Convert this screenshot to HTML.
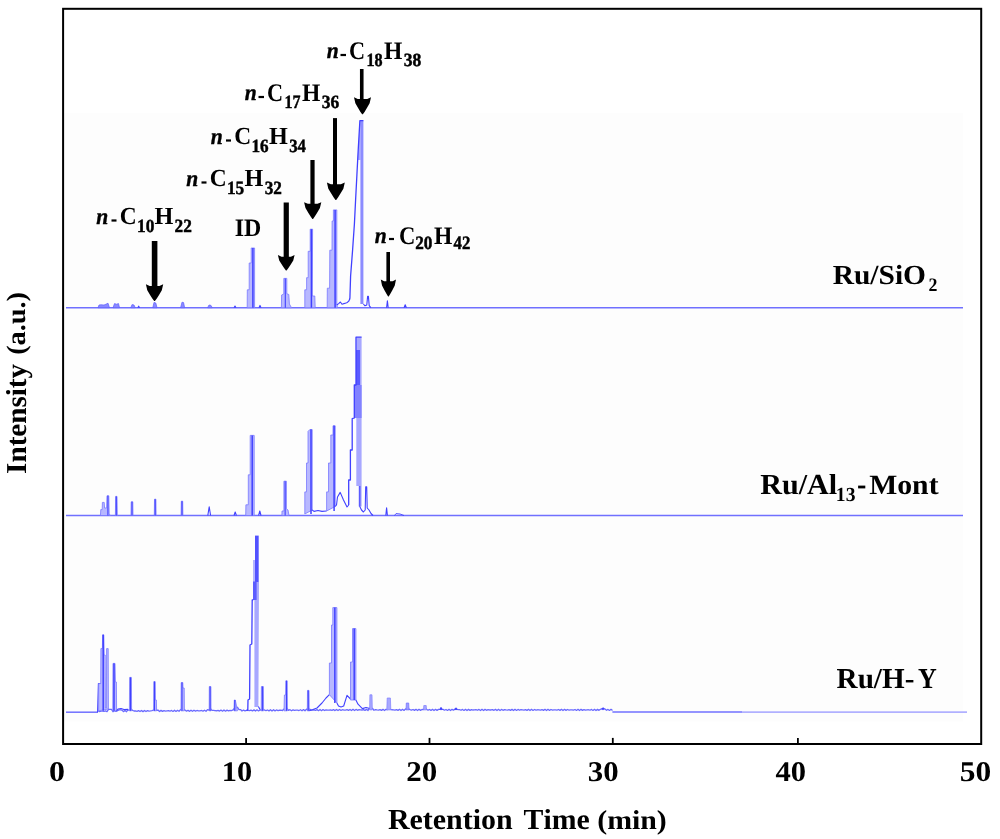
<!DOCTYPE html>
<html><head><meta charset="utf-8"><style>
html,body{margin:0;padding:0;background:#fff;}
body{width:1000px;height:839px;overflow:hidden;}
svg{display:block;will-change:transform;}
text{text-rendering:geometricPrecision;font-family:"Liberation Serif",serif;font-weight:bold;font-size:28px;fill:#000;font-kerning:none;}
</style></head><body>
<svg width="1000" height="839" viewBox="0 0 1000 839">
<rect x="0" y="0" width="1000" height="839" fill="#fff"/>
<rect x="64" y="112.9" width="898.8" height="608.7" fill="#fdfdfd"/>
<g>
<line x1="66" y1="307.7" x2="963" y2="307.7" stroke="#7070ff" stroke-width="1.5"/>
<polygon points="98,307.7 99,305 101,304.8 104,305 106,304.2 108,303.2 109.5,307.7" fill="#8a8aff" stroke="#5c5cff" stroke-width="0.7"/>
<polygon points="113,307.7 114.5,303.6 116.5,304.2 118.5,303.6 119.5,307.7" fill="#8a8aff" stroke="#5c5cff" stroke-width="0.7"/>
<polygon points="130.8,307.7 132,304.6 134,305 135.2,307.7" fill="#8a8aff" stroke="#5c5cff" stroke-width="0.7"/>
<polyline points="137.8,307.7 138.7,306.2 139.6,307.7" fill="none" stroke="#4040ff" stroke-width="1.1" stroke-linejoin="round"/>
<polygon points="152.8,307.7 154,302.4 155.8,303 157,307.7" fill="#8a8aff" stroke="#5c5cff" stroke-width="0.7"/>
<polygon points="180.6,307.7 182,302.2 183.6,302.6 184.6,307.7" fill="#8a8aff" stroke="#5c5cff" stroke-width="0.7"/>
<polygon points="207.6,307.7 209,305 211,305.4 212.2,307.7" fill="#8a8aff" stroke="#5c5cff" stroke-width="0.7"/>
<polyline points="234,307.7 235,306 236,307.7" fill="none" stroke="#4040ff" stroke-width="1.1" stroke-linejoin="round"/>
<polygon points="247.2,307.7 247.3,289.8 249.2,289.8 249.2,263 251.2,263 251.2,248 254.6,248 254.6,307.7" fill="#b8b8ff" stroke="#7878ff" stroke-width="0.8"/>
<line x1="252.90" y1="248" x2="252.90" y2="307.7" stroke="#4040ff" stroke-width="1.5"/>
<polyline points="259,307.7 260,305.4 261,307.7" fill="none" stroke="#4040ff" stroke-width="1.1" stroke-linejoin="round"/>
<polygon points="281.4,307.7 281.6,295 283.8,294 283.8,278.4 286.8,278.4 286.8,293.7 288.8,294.5 289.4,304 291.5,307.7" fill="#b8b8ff" stroke="#7878ff" stroke-width="0.8"/>
<line x1="285.30" y1="278.4" x2="285.30" y2="307.7" stroke="#4040ff" stroke-width="1.1"/>
<polygon points="304.8,307.7 304.8,289.8 306.6,289.8 306.6,277.7 308.2,277.7 308.2,251.3 310.2,251.3 310.2,229.2 312.6,229.2 312.3,296 314.8,296 315.2,307.7" fill="#b8b8ff" stroke="#7878ff" stroke-width="0.8"/>
<line x1="311.40" y1="229.2" x2="311.40" y2="307.7" stroke="#4040ff" stroke-width="1.5"/>
<polygon points="327.2,307.7 327.3,288.2 329.6,288.2 329.8,250.2 332,250.2 332.1,221 333.4,221 333.4,209.9 336.8,209.9 336.8,304 337.4,307.7" fill="#b8b8ff" stroke="#7878ff" stroke-width="0.8"/>
<line x1="335.10" y1="209.9" x2="335.10" y2="307.7" stroke="#4040ff" stroke-width="1.5"/>
<polyline points="336.8,305 338.6,303.6 340.4,302 342,304.2 344.6,303.4 347.4,302.4 349.3,300.5" fill="none" stroke="#4040ff" stroke-width="1.1" stroke-linejoin="round"/>
<polygon points="360.4,120.4 363.4,120.4 363.4,304 360.4,304" fill="#8c8cff"/>
<polygon points="357.5,160 358.2,150 359.9,121 361,121 361,160" fill="#a8a8ff"/>
<polyline points="349.3,300.5 349.9,298 350.6,276 352.6,250 354.4,224 355.6,200 356.9,175 358.2,150 359.9,120.6 363.4,120.6" fill="none" stroke="#4040ff" stroke-width="1.3" stroke-linejoin="round"/>
<polyline points="363.4,304 365,305.8 366.8,305 367.6,296.4 368.4,296.4 369.2,305.6 370.8,307.7" fill="none" stroke="#4040ff" stroke-width="1.1" stroke-linejoin="round"/>
<polyline points="386.6,307.7 387.4,300.8 388.2,307.7" fill="none" stroke="#4040ff" stroke-width="1.1" stroke-linejoin="round"/>
<polyline points="404,307.7 405.2,304.8 406.4,307.7" fill="none" stroke="#4040ff" stroke-width="1.1" stroke-linejoin="round"/>
<line x1="66" y1="515.5" x2="963" y2="515.5" stroke="#7070ff" stroke-width="1.5"/>
<polygon points="100.4,515.5 100.8,509.6 102.2,509.6 102.4,502.4 104.2,502.4 104.6,508 106.6,508 107,495.8 108.8,495.8 109.2,514 110.5,515.5" fill="#b8b8ff" stroke="#7878ff" stroke-width="0.8"/>
<line x1="107.90" y1="495.8" x2="107.90" y2="515.5" stroke="#4040ff" stroke-width="1.1"/>
<polygon points="115.4,515.5 115.6,496.4 117,496.4 117.3,515.5" fill="#b8b8ff" stroke="#7878ff" stroke-width="0.8"/>
<line x1="116.30" y1="496.4" x2="116.30" y2="515.5" stroke="#4040ff" stroke-width="1.1"/>
<polygon points="131,515.5 131.2,501.8 132.8,501.8 133,515.5" fill="#b8b8ff" stroke="#7878ff" stroke-width="0.8"/>
<line x1="132.00" y1="501.8" x2="132.00" y2="515.5" stroke="#4040ff" stroke-width="1.1"/>
<polygon points="154.3,515.5 154.5,499.2 155.9,499.2 156.1,515.5" fill="#b8b8ff" stroke="#7878ff" stroke-width="0.8"/>
<line x1="155.20" y1="499.2" x2="155.20" y2="515.5" stroke="#4040ff" stroke-width="1.1"/>
<polygon points="181.1,515.5 181.3,501.2 182.7,501.2 182.9,515.5" fill="#b8b8ff" stroke="#7878ff" stroke-width="0.8"/>
<line x1="182.00" y1="501.2" x2="182.00" y2="515.5" stroke="#4040ff" stroke-width="1.1"/>
<polyline points="207.8,515.5 209.2,506.8 210.6,515.5" fill="none" stroke="#4040ff" stroke-width="1.1" stroke-linejoin="round"/>
<polyline points="234,515.5 235.2,512 236.4,515.5" fill="none" stroke="#4040ff" stroke-width="1.1" stroke-linejoin="round"/>
<polygon points="245.7,515.5 245.9,504.8 248.3,504.8 248.3,474.8 250.2,474.8 250.2,435.4 254.2,435.4 254.2,515.5" fill="#b8b8ff" stroke="#7878ff" stroke-width="0.8"/>
<line x1="252.20" y1="435.4" x2="252.20" y2="515.5" stroke="#4040ff" stroke-width="1.5"/>
<polyline points="258.6,515.5 259.8,511 261,515.5" fill="none" stroke="#4040ff" stroke-width="1.1" stroke-linejoin="round"/>
<polygon points="281.9,515.5 282,511 283.9,511 283.9,481.2 286.4,481.2 286.4,508.8 288,510 289,515.5" fill="#b8b8ff" stroke="#7878ff" stroke-width="0.8"/>
<line x1="285.15" y1="481.2" x2="285.15" y2="515.5" stroke="#4040ff" stroke-width="1.1"/>
<polygon points="304.8,514 304.8,491.9 306.5,491.9 306.5,463 308,463 308,431.4 309.8,429.6 312.2,429.6 312.2,510" fill="#b8b8ff" stroke="#7878ff" stroke-width="0.8"/>
<line x1="311.00" y1="429.6" x2="311.00" y2="514" stroke="#4040ff" stroke-width="1.5"/>
<polyline points="312.2,510 314,511.4 318,510.5 322,511.4 326.6,511" fill="none" stroke="#4040ff" stroke-width="1.1" stroke-linejoin="round"/>
<polygon points="326.6,511 326.6,491.9 328.5,491.9 328.5,463 330.8,463 330.8,435 333,435 333,425.8 335.2,425.8 335.2,506.5" fill="#b8b8ff" stroke="#7878ff" stroke-width="0.8"/>
<line x1="334.10" y1="425.8" x2="334.10" y2="511" stroke="#4040ff" stroke-width="1.5"/>
<polyline points="335.2,506.5 336.5,505 337.5,497 340.2,492.4 343.5,500 347,507 348.7,505" fill="none" stroke="#4040ff" stroke-width="1.1" stroke-linejoin="round"/>
<polygon points="356.3,337.2 361.6,337.2 361.6,506.5 358.6,506.5 358.6,486 356.3,486" fill="#a8a8ff"/>
<polygon points="356,350 360,350 360,385 356,385" fill="#5a5aff"/>
<polygon points="354.3,385 361.6,385 361.6,418 354.3,418" fill="#8282ff"/>
<polyline points="348.7,505 348.7,480 350.4,480 350.4,450 352.2,450 352.2,418.7 354.3,418 354.3,385 356,385 356,337.2 361.6,337.2" fill="none" stroke="#4040ff" stroke-width="1.3" stroke-linejoin="round"/>
<polyline points="359.8,486 359.8,506.5 361.5,510 363.4,512 365.2,510 365.7,486.8 366.7,486.8 367.2,508 369,510 371,513.5 373,515.5" fill="none" stroke="#4040ff" stroke-width="1.1" stroke-linejoin="round"/>
<polyline points="385.8,515.5 386.6,507.7 387.4,515.5" fill="none" stroke="#4040ff" stroke-width="1.1" stroke-linejoin="round"/>
<polyline points="394.5,515.5 396,513.6 400,514 404,515.5" fill="none" stroke="#4040ff" stroke-width="0.9" stroke-linejoin="round"/>
<line x1="66" y1="712.2" x2="98" y2="712.2" stroke="#7070ff" stroke-width="1.5"/>
<polyline points="98,710.75 99.5,711.52 101,711.04 102.5,711.18 104,711.39 105.5,710.86 107,711.67 108.5,709.39 110,709.3 111.5,709.36 113,711.71 114.5,710.75 116,711.45 117.5,710.74 119,709.9 120.5,709.87 122,710.16 123.5,711.62 125,710.55 126.5,711.71 128,709.9 129.5,710.03 131,708.81 132.5,710.39 134,711 135.5,710.97 137,711.32 138.5,710.65 140,711.56 141.5,710.45 143,711.63 144.5,710.45 146,711.5 147.5,710.64 149,711.21 150.5,710.95 152,710.53 153.5,710.01 155,708.33 156.5,710.24 158,710.05 159.5,711.54 161,710.38 162.5,711.39 164,710.59 165.5,711.08 167,710.9 168.5,710.72 170,711.22 171.5,710.42 173,711.42 174.5,710.27 176,711.45 177.5,710.31 179,711.27 180.5,709.59 182,709.07 183.5,709.29 185,709.97 186.5,711.17 188,710.31 189.5,711.35 191,710.18 192.5,711.35 194,710.25 195.5,711.16 197,710.49 198.5,710.83 200,710.81 201.5,710.48 203,711.11 204.5,710.2 206,711.28 207.5,709.64 209,710.11 210.5,708.81 212,710.36 213.5,710.44 215,710.71 216.5,710.76 218,710.36 219.5,711.05 221,710.1 222.5,711.2 224,710.01 225.5,711.16 227,710.12 228.5,710.93 230,710.39 231.5,710.58 233,709.94 234.5,708.29 236,707.88 237.5,707.27 239,709.57 240.5,709.54 242,711.06 243.5,710.06 245,710.81 246.5,710.34 248,710.46 249.5,710.67 251,710.12 252.5,710.93 254,709.89 255.5,711.04 257,709.85 258.5,710.95 260,710 261.5,709.79 263,709.09 264.5,710.03 266,710.62 267.5,710 269,710.87 270.5,709.79 272,710.96 273.5,709.77 275,710.85 276.5,709.95 278,710.57 279.5,710.25 281,710.21 282.5,710.57 284,709.03 285.5,709.09 287,708.27 288.5,710.3 290,709.7 291.5,710.74 293,709.89 294.5,710.44 296,710.2 297.5,710.08 299,710.52 300.5,709.77 302,710.74 303.5,709.6 305,710.78 306.5,709.23 308,709.63 309.5,709.04 311,710.12 312.5,710.15 314,709.96 315.5,710.47 317,709.66 318.5,710.67 320,709.51 321.5,710.69 323,709.56 324.5,710.51 326,709.79 327.5,710.2 329,710.11 330.5,709.84 332,710.41 333.5,709.55 335,710.6 336.5,709.42 338,710.59 339.5,709.49 341,710.4 342.5,709.74 344,710.07 345.5,710.06 347,709.72 348.5,710.36 350,709.44 351.5,710.52 353,709.34 354.5,710.5 356,709.43 357.5,710.28 359,709.69 360.5,709.95 362,710.02 363.5,709.61 365,710.33 366.5,709.37 368,710.49 369.5,708.3 371,708.46 372.5,708.43 374,710.24 375.5,709.72 377,709.91 378.5,710.06 380,709.58 381.5,710.35 383,709.35 384.5,710.49 386,709.31 387.5,709.64 389,707.86 390.5,709.41 392,709.76 393.5,709.87 395,710.1 396.5,709.55 398,710.38 399.5,709.34 401,710.5 402.5,709.32 404,710.42 405.5,709.02 407,709 408.5,708.86 410,709.6 411.5,710.14 413,709.51 414.5,710.4 416,709.32 417.5,710.5 419,709.33 420.5,710.4 422,709.52 423.5,709.53 425,708.63 426.5,709.19 428,710.17 429.5,709.48 431,710.42 432.5,709.31 434,710.5 435.5,709.34 437,710.38 438.5,709.38 440,709.43 441.5,709.04 443,709.42 444.5,710.21 446,709.46 447.5,710.44 449,709.31 450.5,710.49 452,709.35 453.5,710.19 455,708.91 456.5,709.23 458,709.58 459.5,709.72 461,710.24 462.5,709.43 464,710.46 465.5,709.3 467,710.49 468.5,709.37 470,710.33 471.5,709.61 473,710.02 474.5,709.95 476,709.68 477.5,710.27 479,709.41 480.5,710.47 482,709.3 483.5,710.48 485,709.39 486.5,710.3 488,709.65 489.5,709.98 491,709.99 492.5,709.64 494,710.3 495.5,709.39 497,710.48 498.5,709.3 500,710.47 501.5,709.41 503,710.27 504.5,709.69 506,709.94 507.5,710.03 509,709.61 510.5,710.33 512,709.37 513.5,710.49 515,709.3 516.5,710.45 518,709.44 519.5,710.23 521,709.72 522.5,709.9 524,710.07 525.5,709.57 527,710.36 528.5,709.35 530,710.5 531.5,709.31 533,710.44 534.5,709.46 536,710.2 537.5,709.76 539,709.86 540.5,710.11 542,709.54 543.5,710.38 545,709.34 546.5,710.5 548,709.32 549.5,710.42 551,709.49 552.5,710.17 554,709.8 555.5,709.83 557,710.14 558.5,709.51 560,710.4 561.5,709.32 563,710.5 564.5,709.33 566,710.4 567.5,709.52 569,710.13 570.5,709.84 572,709.79 573.5,710.18 575,709.48 576.5,710.43 578,709.31 579.5,710.5 581,709.34 582.5,710.37 584,709.55 585.5,710.09 587,709.88 588.5,709.75 590,710.21 591.5,709.45 593,710.44 594.5,709.31 596,710.49 597.5,709.36 599,710.35 600.5,709.25 602,708.72 603.5,708.25 605,709.04 606.5,710.25 608,709.43 609.5,710.46 611,709.3 612.5,710.49" fill="none" stroke="#6a6aff" stroke-width="1.3" stroke-linejoin="round"/>
<line x1="612.4" y1="711.9" x2="742" y2="711.9" stroke="#7070ff" stroke-width="1.5"/>
<line x1="742" y1="712.1" x2="967" y2="712.1" stroke="#b0b0ff" stroke-width="1.7"/>
<polyline points="97.6,712.2 98.4,683.6 100.7,683.6" fill="none" stroke="#4040ff" stroke-width="1.1" stroke-linejoin="round"/>
<polygon points="98.6,710.8 98.6,683.6 100.7,683.6 100.9,648.6 102.4,648.6 102.6,634.8 103.8,634.8 104.2,655 105.2,655 105.4,708 106.4,708 106.6,648.6 108.2,648.6 108.4,709" fill="#b8b8ff" stroke="#7878ff" stroke-width="0.8"/>
<line x1="103.20" y1="634.8" x2="103.20" y2="710.8" stroke="#4040ff" stroke-width="1.5"/>
<polygon points="112.8,710.8 113,663.4 115,663.4 115.4,682 116.4,682 116.6,710.8" fill="#b8b8ff" stroke="#7878ff" stroke-width="0.8"/>
<line x1="114.00" y1="663.4" x2="114.00" y2="710.8" stroke="#4040ff" stroke-width="1.5"/>
<polyline points="116.6,710.8 118,709 121,708.6 124,709.6 128,709.4" fill="none" stroke="#4040ff" stroke-width="1.1" stroke-linejoin="round"/>
<polygon points="129.4,710.8 129.6,677.4 131.4,677.4 131.6,710.8" fill="#b8b8ff" stroke="#7878ff" stroke-width="0.8"/>
<line x1="130.50" y1="677.4" x2="130.50" y2="710.8" stroke="#4040ff" stroke-width="1.1"/>
<polygon points="153.6,710.8 153.8,681.6 155.2,681.6 155.4,700 156.4,700 156.6,710.8" fill="#b8b8ff" stroke="#7878ff" stroke-width="0.8"/>
<line x1="154.50" y1="681.6" x2="154.50" y2="710.8" stroke="#4040ff" stroke-width="1.1"/>
<polygon points="181,710.8 181.2,682.6 182.8,682.6 183,688 184.2,688 184.4,710.8" fill="#b8b8ff" stroke="#7878ff" stroke-width="0.8"/>
<line x1="182.00" y1="682.6" x2="182.00" y2="710.8" stroke="#4040ff" stroke-width="1.1"/>
<polygon points="209.2,710.8 209.3,686.6 210.9,686.6 211,710.8" fill="#b8b8ff" stroke="#7878ff" stroke-width="0.8"/>
<line x1="210.10" y1="686.6" x2="210.10" y2="710.8" stroke="#4040ff" stroke-width="1.1"/>
<polygon points="234,710.8 234.3,700 235.3,700 236.5,706 237.5,710.8" fill="#b8b8ff" stroke="#7878ff" stroke-width="0.8"/>
<line x1="234.80" y1="700" x2="234.80" y2="710.8" stroke="#4040ff" stroke-width="1.1"/>
<polygon points="256.8,582 259,582 258.4,707 254.4,707 254.4,600 256.8,600" fill="#a8a8ff"/>
<polygon points="253,560 255.2,560 255.2,582 253,582" fill="#b4b4ff"/>
<polygon points="255,535.6 258.7,535.6 258.7,582 255,582" fill="#5252ff"/>
<polygon points="253,581.5 256.8,581.5 256.8,600 253,600" fill="#5c5cff"/>
<polyline points="246.6,710.8 247.8,709.5 248,700 249.6,699 250,645 251.8,644 252.2,600 253.2,600" fill="none" stroke="#4040ff" stroke-width="1.3" stroke-linejoin="round"/>
<polyline points="258.4,706.5 260,709.6" fill="none" stroke="#4040ff" stroke-width="1.1" stroke-linejoin="round"/>
<polygon points="261.2,710.8 261.4,686.6 263.4,686.6 263.6,710.8" fill="#b8b8ff" stroke="#7878ff" stroke-width="0.8"/>
<line x1="262.40" y1="686.6" x2="262.40" y2="710.8" stroke="#4040ff" stroke-width="1.1"/>
<polygon points="284,710.8 284.4,695 285.6,695 285.8,680.8 287.2,680.8 287.4,710.8" fill="#b8b8ff" stroke="#7878ff" stroke-width="0.8"/>
<line x1="286.50" y1="680.8" x2="286.50" y2="710.8" stroke="#4040ff" stroke-width="1.1"/>
<polygon points="307.3,710.8 307.5,690.4 309,690.4 309.2,710.8" fill="#b8b8ff" stroke="#7878ff" stroke-width="0.8"/>
<line x1="308.25" y1="690.4" x2="308.25" y2="710.8" stroke="#4040ff" stroke-width="1.1"/>
<polyline points="309.2,710.8 313,709.6 317,708 322,703 326,698 329.4,694.7" fill="none" stroke="#4040ff" stroke-width="1.1" stroke-linejoin="round"/>
<polygon points="329.4,694.7 329.4,663 331.5,663 331.5,625 332.8,625 332.8,607.6 336.9,607.6 336.9,703" fill="#b8b8ff" stroke="#7878ff" stroke-width="0.8"/>
<line x1="334.85" y1="607.6" x2="334.85" y2="703" stroke="#4040ff" stroke-width="1.5"/>
<polyline points="336.9,703 338.5,706 341,707 343.7,706 347,695.4 350.5,699" fill="none" stroke="#4040ff" stroke-width="1.1" stroke-linejoin="round"/>
<polygon points="350.5,700 350.5,662 352.5,662 352.5,628.6 355.9,628.6 355.9,700" fill="#b8b8ff" stroke="#7878ff" stroke-width="0.8"/>
<line x1="354.20" y1="628.6" x2="354.20" y2="700" stroke="#4040ff" stroke-width="1.5"/>
<polyline points="355.9,700 358,704.2 362.4,708.6 366,707.5 369.8,708.5" fill="none" stroke="#4040ff" stroke-width="1.1" stroke-linejoin="round"/>
<polygon points="369.6,709.9 369.9,694.8 372,694.8 372.3,709.9" fill="#a8a8ff" stroke="#8080ff" stroke-width="0.7"/>
<polygon points="386.8,709.9 387.2,698 390.4,698 390.8,709.9" fill="#a8a8ff" stroke="#8080ff" stroke-width="0.7"/>
<polygon points="406,709.9 406.3,703 408.7,703 409,709.9" fill="#9c9cff" stroke="#7070ff" stroke-width="0.7"/>
<polygon points="423.5,709.9 423.8,705.5 426.2,705.5 426.5,709.9" fill="#a8a8ff" stroke="#8080ff" stroke-width="0.7"/>
<polyline points="439.9,709.9 441,707.5 442.1,709.9" fill="none" stroke="#4040ff" stroke-width="1.1" stroke-linejoin="round"/>
<polyline points="454.9,709.9 456,708 457.1,709.9" fill="none" stroke="#4040ff" stroke-width="1.1" stroke-linejoin="round"/>
<polyline points="601.9,709.9 603,708 604.1,709.9" fill="none" stroke="#4040ff" stroke-width="1.1" stroke-linejoin="round"/>
</g>
<rect x="63.1" y="8.8" width="918.1" height="735.2" fill="none" stroke="#000" stroke-width="2"/>
<g stroke="#000" stroke-width="1.8">
<line x1="246.1" y1="737.9" x2="246.1" y2="743"/>
<line x1="429.5" y1="737.9" x2="429.5" y2="743"/>
<line x1="612.8" y1="737.9" x2="612.8" y2="743"/>
<line x1="797.9" y1="737.9" x2="797.9" y2="743"/>
</g>
<text transform="translate(49.08,781.40) scale(1.1418,1.0195)">0</text>
<text transform="translate(221.77,781.40) scale(1.0854,1.0195)">10</text>
<text transform="translate(406.20,781.40) scale(1.1065,1.0195)">20</text>
<text transform="translate(587.84,781.40) scale(1.1012,1.0195)">30</text>
<text transform="translate(775.58,781.40) scale(1.0922,1.0195)">40</text>
<text transform="translate(959.74,781.40) scale(1.1235,1.0195)">50</text>
<text transform="translate(387.89,829.30) scale(1.0696,1.0363)">Retention</text>
<text transform="translate(523.53,829.40) scale(1.0648,1.0363)">Time</text>
<text transform="translate(597.19,828.90) scale(1.0658,0.9729)">(min)</text>
<text transform="translate(25.70,473.88) rotate(-90) scale(1.0394,1.0309)">Intensity</text>
<text transform="translate(25.39,354.84) rotate(-90) scale(1.0107,0.9571)">(a.u.)</text>
<text transform="translate(832.70,283.60) scale(1.0523,0.9872)">Ru/SiO</text>
<text transform="translate(928.45,291.30) scale(0.6368,0.6796)">2</text>
<text transform="translate(760.18,493.60) scale(1.0763,1.0363)">Ru/Al</text>
<text transform="translate(835.83,501.00) scale(0.7016,0.7120)">13</text>
<text transform="translate(869.19,493.50) scale(1.0615,0.9981)">Mont</text>
<text transform="translate(836.60,687.90) scale(1.0414,1.0309)">Ru/H-</text>
<text transform="translate(918.04,687.90) scale(0.9273,1.0309)">Y</text>
<rect x="858.1" y="485.6" width="7.2" height="2.8" fill="#000"/>
<text transform="translate(96.31,224.05) scale(0.7703,0.8186)" font-style="italic" stroke="#000" stroke-width="0.5">n</text>
<rect x="111.5" y="219.4" width="5.0" height="2.2" fill="#000"/>
<text transform="translate(119.86,224.30) scale(0.8373,0.8782)">C</text>
<text transform="translate(136.96,231.65) scale(0.6196,0.6635)" stroke="#000" stroke-width="0.7">10</text>
<text transform="translate(154.59,224.30) scale(0.8639,0.8782)">H</text>
<text transform="translate(174.62,231.65) scale(0.6167,0.6635)" stroke="#000" stroke-width="0.7">22</text>
<text transform="translate(186.31,186.05) scale(0.7703,0.8186)" font-style="italic" stroke="#000" stroke-width="0.5">n</text>
<rect x="201.5" y="181.4" width="5.0" height="2.2" fill="#000"/>
<text transform="translate(209.86,186.30) scale(0.8373,0.8782)">C</text>
<text transform="translate(226.96,193.65) scale(0.6186,0.6635)" stroke="#000" stroke-width="0.7">15</text>
<text transform="translate(244.59,186.30) scale(0.8639,0.8782)">H</text>
<text transform="translate(264.70,193.65) scale(0.6137,0.6635)" stroke="#000" stroke-width="0.7">32</text>
<text transform="translate(210.81,144.05) scale(0.7703,0.8186)" font-style="italic" stroke="#000" stroke-width="0.5">n</text>
<rect x="226.0" y="139.4" width="5.0" height="2.2" fill="#000"/>
<text transform="translate(234.36,144.30) scale(0.8373,0.8782)">C</text>
<text transform="translate(251.47,151.65) scale(0.6135,0.6635)" stroke="#000" stroke-width="0.7">16</text>
<text transform="translate(269.09,144.30) scale(0.8639,0.8782)">H</text>
<text transform="translate(289.22,151.65) scale(0.5979,0.6635)" stroke="#000" stroke-width="0.7">34</text>
<text transform="translate(244.81,100.45) scale(0.7703,0.8110)" font-style="italic" stroke="#000" stroke-width="0.5">n</text>
<rect x="258.5" y="95.9" width="5.5" height="2.2" fill="#000"/>
<text transform="translate(267.11,100.70) scale(0.7954,0.9000)">C</text>
<text transform="translate(284.57,107.65) scale(0.5703,0.6635)" stroke="#000" stroke-width="0.7">17</text>
<text transform="translate(302.10,100.70) scale(0.8399,0.9000)">H</text>
<text transform="translate(321.69,107.65) scale(0.6239,0.6635)" stroke="#000" stroke-width="0.7">36</text>
<text transform="translate(326.81,58.45) scale(0.7703,0.8110)" font-style="italic" stroke="#000" stroke-width="0.5">n</text>
<rect x="340.5" y="53.9" width="5.5" height="2.2" fill="#000"/>
<text transform="translate(349.11,58.70) scale(0.7954,0.9000)">C</text>
<text transform="translate(366.56,65.65) scale(0.5760,0.6635)" stroke="#000" stroke-width="0.7">18</text>
<text transform="translate(384.10,58.70) scale(0.8399,0.9000)">H</text>
<text transform="translate(403.69,65.65) scale(0.6265,0.6635)" stroke="#000" stroke-width="0.7">38</text>
<text transform="translate(374.81,243.45) scale(0.7703,0.8110)" font-style="italic" stroke="#000" stroke-width="0.5">n</text>
<rect x="389.0" y="237.9" width="5.0" height="2.2" fill="#000"/>
<text transform="translate(398.90,243.70) scale(0.8074,0.9000)">C</text>
<text transform="translate(415.13,249.05) scale(0.6134,0.6743)" stroke="#000" stroke-width="0.7">20</text>
<text transform="translate(434.10,243.70) scale(0.8399,0.9000)">H</text>
<text transform="translate(453.62,249.05) scale(0.5982,0.6743)" stroke="#000" stroke-width="0.7">42</text>
<text transform="translate(234.79,235.80) scale(0.8540,0.8945)">ID</text>
<rect x="151.80" y="241.0" width="5.6" height="46.3" fill="#000"/>
<polygon points="145.90,284.30 149.71,285.97 159.39,285.97 163.20,284.30 161.82,290.14 158.88,295.16 156.63,298.66 154.90,301.00 154.20,301.00 152.47,298.66 150.23,295.16 147.28,290.14" fill="#000"/>
<rect x="283.65" y="202.5" width="5.2" height="55.6" fill="#000"/>
<polygon points="277.90,255.10 281.57,256.64 290.93,256.64 294.60,255.10 293.26,260.49 290.43,265.11 288.25,268.34 286.58,270.50 285.92,270.50 284.25,268.34 282.07,265.11 279.24,260.49" fill="#000"/>
<rect x="310.40" y="160.0" width="4.2" height="45.2" fill="#000"/>
<polygon points="304.10,202.20 307.88,203.87 317.52,203.87 321.30,202.20 319.92,208.04 317.00,213.06 314.76,216.56 313.04,218.90 312.36,218.90 310.64,216.56 308.40,213.06 305.48,208.04" fill="#000"/>
<rect x="333.00" y="118.1" width="4.0" height="67.5" fill="#000"/>
<polygon points="326.90,182.60 330.84,184.33 340.86,184.33 344.80,182.60 343.37,188.66 340.33,193.84 338.00,197.48 336.21,199.90 335.49,199.90 333.70,197.48 331.38,193.84 328.33,188.66" fill="#000"/>
<rect x="359.95" y="69.0" width="3.6" height="31.2" fill="#000"/>
<polygon points="354.00,97.20 357.74,98.91 367.26,98.91 371.00,97.20 369.64,103.19 366.75,108.31 364.54,111.91 362.84,114.30 362.16,114.30 360.46,111.91 358.25,108.31 355.36,103.19" fill="#000"/>
<rect x="386.40" y="252.0" width="3.6" height="30.6" fill="#000"/>
<polygon points="380.80,279.60 384.14,281.28 392.66,281.28 396.00,279.60 394.78,285.48 392.20,290.52 390.22,294.05 388.70,296.40 388.10,296.40 386.58,294.05 384.60,290.52 382.02,285.48" fill="#000"/>
</svg>
</body></html>
